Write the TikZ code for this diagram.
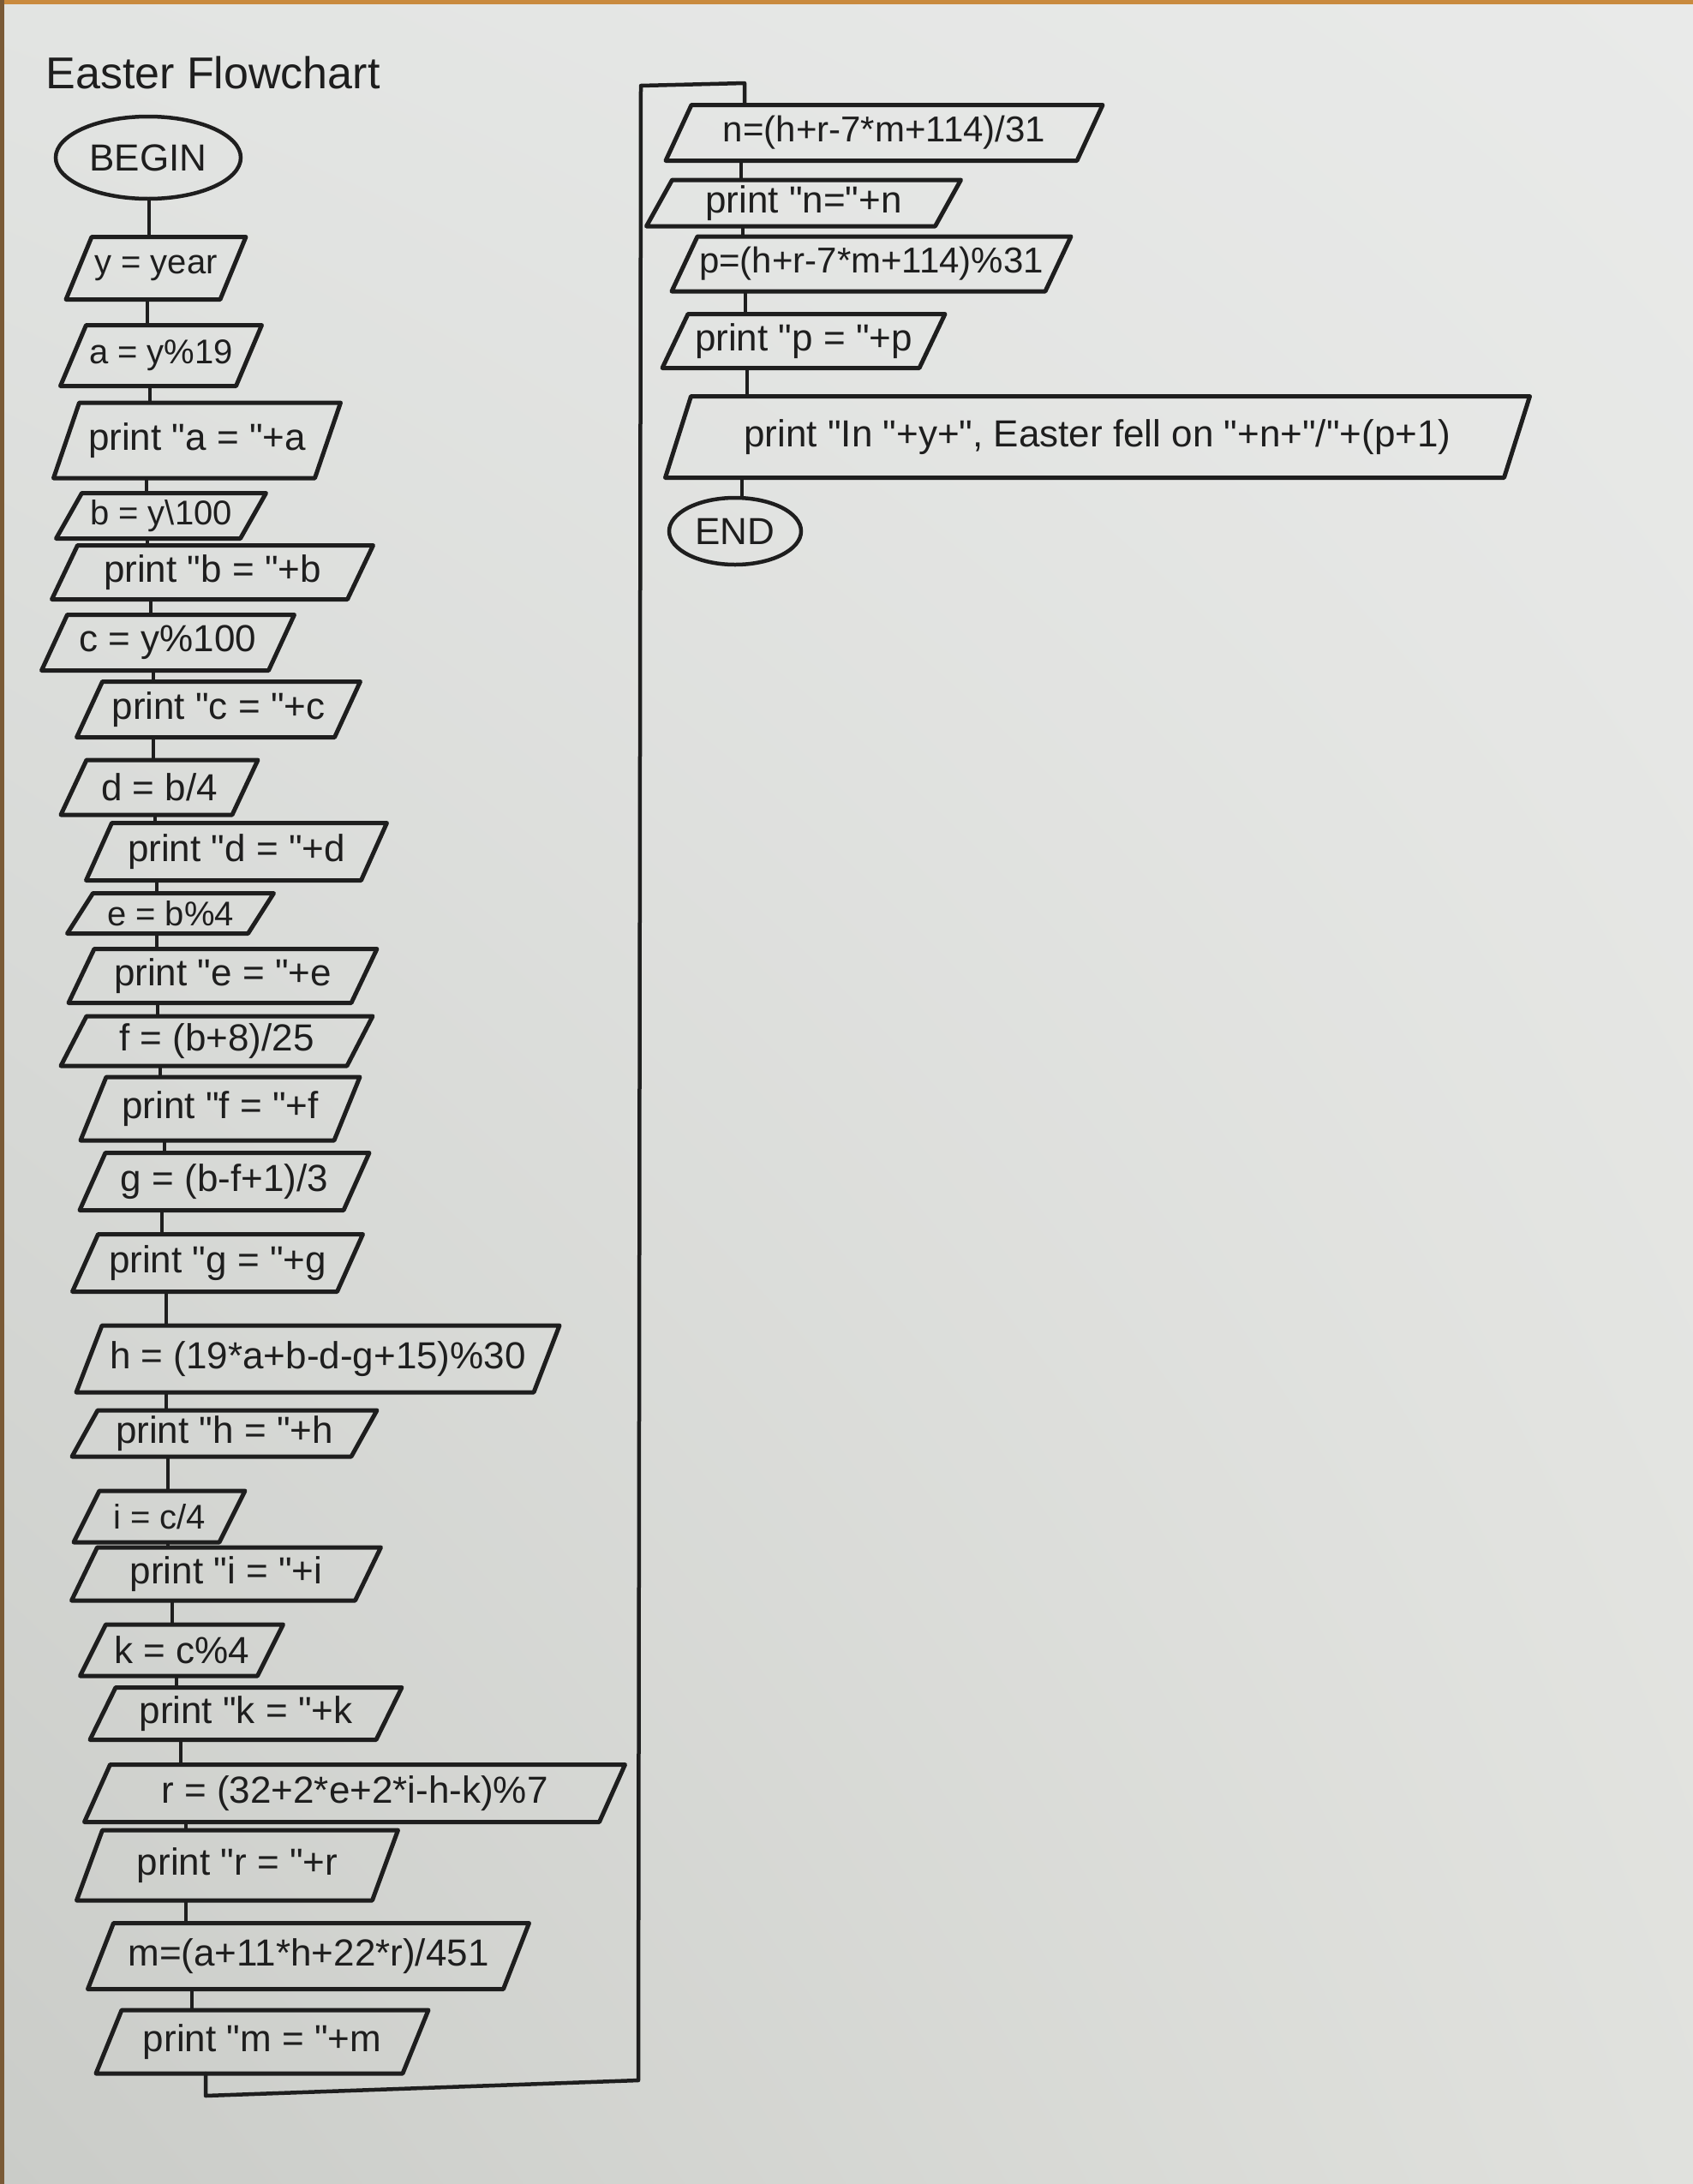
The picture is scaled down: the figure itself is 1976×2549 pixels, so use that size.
\documentclass[tikz,border=0pt]{standalone}
\usepackage{fontspec}
\newfontfamily\hand{Liberation Sans}
\usetikzlibrary{shapes.geometric,shadings}
\definecolor{inkc}{HTML}{1E1E1E}
\definecolor{wood}{HTML}{C98A3E}
\definecolor{woodd}{HTML}{7A5A36}
\definecolor{pUL}{RGB}{226,228,226}
\definecolor{pUR}{RGB}{233,234,233}
\definecolor{pLL}{RGB}{202,204,200}
\definecolor{pLR}{RGB}{224,225,221}
\begin{document}
\begin{tikzpicture}[x=1pt,y=-1pt,
  ink/.style={draw=inkc, line width=5pt, line cap=round, line join=round},
  conn/.style={draw=inkc, line width=3.5pt, line cap=round},
  io/.style={inner sep=0pt, outer sep=0pt, text=inkc, font=\hand\fontsize{44}{52}\selectfont},
  small/.style={font=\hand\fontsize{40}{48}\selectfont},
  term/.style={ellipse, draw=inkc, line width=4.5pt, inner sep=0pt, text=inkc, font=\hand\fontsize{44}{52}\selectfont}]
% paper
\shade[upper left=pUL, upper right=pUR, lower left=pLL, lower right=pLR]
  (0,0) rectangle (1976,2549);
\useasboundingbox (0,0) rectangle (1976,2549);
\fill[wood] (0,0) rectangle (1976,5);
\fill[woodd] (0,0) rectangle (5,2549);

% title
\node[anchor=west, text=inkc, font=\hand\fontsize{52}{60}\selectfont] (title) at (50,85) {Easter Flowchart};

% left column
\node[term, minimum width=216pt, minimum height=96pt] (begin) at (173,184) {BEGIN};
\node[io, small, minimum width=180pt, minimum height=73pt] (yr) at (182,313) {y = year};
\node[io, small, minimum width=205pt, minimum height=71pt] (a)  at (188,415) {a = y\%19};
\node[io, minimum width=305pt, minimum height=88pt] (pa) at (230,514) {print "a = "+a};
\node[io, small, minimum width=215pt, minimum height=53pt] (b)  at (188,602) {b = y\textbackslash 100};
\node[io, minimum width=345pt, minimum height=63pt] (pb) at (248,668) {print "b = "+b};
\node[io, minimum width=265pt, minimum height=65pt] (c)  at (196,750) {c = y\%100};
\node[io, minimum width=301pt, minimum height=65pt] (pc) at (255,828) {print "c = "+c};
\node[io, minimum width=200pt, minimum height=64pt] (d)  at (186,919) {d = b/4};
\node[io, minimum width=321pt, minimum height=67pt] (pd) at (276,994) {print "d = "+d};
\node[io, small, minimum width=211pt, minimum height=47pt] (e)  at (199,1066) {e = b\%4};
\node[io, minimum width=330pt, minimum height=63pt] (pe) at (260,1139) {print "e = "+e};
\node[io, minimum width=334pt, minimum height=58pt] (f)  at (253,1215) {f = (b+8)/25};
\node[io, minimum width=296pt, minimum height=74pt] (pf) at (257,1294) {print "f = "+f};
\node[io, minimum width=308pt, minimum height=67pt] (g)  at (262,1379) {g = (b-f+1)/3};
\node[io, minimum width=309pt, minimum height=67pt] (pg) at (254,1474) {print "g = "+g};
\node[io, minimum width=534pt, minimum height=78pt] (h)  at (371,1586) {h = (19*a+b-d-g+15)\%30};
\node[io, minimum width=326pt, minimum height=54pt] (ph) at (262,1673) {print "h = "+h};
\node[io, small, minimum width=170pt, minimum height=60pt] (i)  at (186,1770) {i = c/4};
\node[io, minimum width=331pt, minimum height=62pt] (pi) at (264,1837) {print "i = "+i};
\node[io, minimum width=207pt, minimum height=60pt] (k)  at (212,1926) {k = c\%4};
\node[io, minimum width=334pt, minimum height=61pt] (pk) at (287,2000) {print "k = "+k};
\node[io, minimum width=601pt, minimum height=67pt] (r)  at (414,2093) {r = (32+2*e+2*i-h-k)\%7};
\node[io, minimum width=345pt, minimum height=82pt] (pr) at (277,2177) {print "r = "+r};
\node[io, minimum width=485pt, minimum height=77pt] (m)  at (360,2283) {m=(a+11*h+22*r)/451};
\node[io, minimum width=358pt, minimum height=74pt] (pm) at (306,2383) {print "m = "+m};

% right column
\node[io, minimum width=480pt, minimum height=65pt, font=\hand\fontsize{42}{50}\selectfont] (n)  at (1032,155) {n=(h+r-7*m+114)/31};
\node[io, minimum width=337pt, minimum height=54pt] (pn) at (938,237) {print "n="+n};
\node[io, minimum width=436pt, minimum height=64pt, font=\hand\fontsize{42}{50}\selectfont] (p)  at (1017,308) {p=(h+r-7*m+114)\%31};
\node[io, minimum width=300pt, minimum height=63pt] (pp) at (938,398) {print "p = "+p};
\node[io, minimum width=979pt, minimum height=95pt] (out) at (1281,510) {print "In "+y+", Easter fell on "+n+"/"+(p+1)};
\node[term, minimum width=154pt, minimum height=78pt] (end) at (858,620) {END};

% parallelograms
\foreach \nd in {yr,a,pa,b,pb,c,pc,d,pd,e,pe,f,pf,g,pg,h,ph,i,pi,k,pk,r,pr,m,pm,n,pn,p,pp,out}
  \draw[ink] ([xshift=-15pt]\nd.south west) -- ([xshift=-15pt]\nd.south east)
             -- ([xshift=15pt]\nd.north east) -- ([xshift=15pt]\nd.north west) -- cycle;

% connectors, left column
\draw[conn] (begin.south -| 174,0) -- (yr.north -| 174,0);
\draw[conn] (yr.south -| 172,0) -- (a.north -| 172,0);
\draw[conn] (a.south -| 175,0) -- (pa.north -| 175,0);
\draw[conn] (pa.south -| 171,0) -- (b.north -| 171,0);
\draw[conn] (b.south -| 172,0) -- (pb.north -| 172,0);
\draw[conn] (pb.south -| 176,0) -- (c.north -| 176,0);
\draw[conn] (c.south -| 179,0) -- (pc.north -| 179,0);
\draw[conn] (pc.south -| 179,0) -- (d.north -| 179,0);
\draw[conn] (d.south -| 181,0) -- (pd.north -| 181,0);
\draw[conn] (pd.south -| 183,0) -- (e.north -| 183,0);
\draw[conn] (e.south -| 183,0) -- (pe.north -| 183,0);
\draw[conn] (pe.south -| 184,0) -- (f.north -| 184,0);
\draw[conn] (f.south -| 187,0) -- (pf.north -| 187,0);
\draw[conn] (pf.south -| 192,0) -- (g.north -| 192,0);
\draw[conn] (g.south -| 189,0) -- (pg.north -| 189,0);
\draw[conn] (pg.south -| 194,0) -- (h.north -| 194,0);
\draw[conn] (h.south -| 194,0) -- (ph.north -| 194,0);
\draw[conn] (ph.south -| 196,0) -- (i.north -| 196,0);
\draw[conn] (i.south -| 196,0) -- (pi.north -| 196,0);
\draw[conn] (pi.south -| 201,0) -- (k.north -| 201,0);
\draw[conn] (k.south -| 206,0) -- (pk.north -| 206,0);
\draw[conn] (pk.south -| 211,0) -- (r.north -| 211,0);
\draw[conn] (r.south -| 217,0) -- (pr.north -| 217,0);
\draw[conn] (pr.south -| 217,0) -- (m.north -| 217,0);
\draw[conn] (m.south -| 224,0) -- (pm.north -| 224,0);

% loop back to the top of the right column
\draw[conn, line width=4.5pt, line join=round] (pm.south -| 240,0) -- (240,2446) -- (745,2428) -- (748,100) -- (869,97) -- (n.north -| 869,0);

% connectors, right column
\draw[conn] (n.south -| 865,0) -- (pn.north -| 865,0);
\draw[conn] (pn.south -| 867,0) -- (p.north -| 867,0);
\draw[conn] (p.south -| 870,0) -- (pp.north -| 870,0);
\draw[conn] (pp.south -| 872,0) -- (out.north -| 872,0);
\draw[conn] (out.south -| 866,0) -- (end.north -| 866,0);
\end{tikzpicture}
\end{document}
